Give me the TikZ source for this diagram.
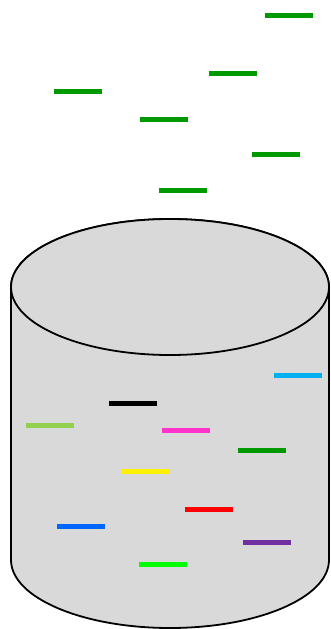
\documentclass[tikz,border=0pt]{standalone}
\begin{document}
\begin{tikzpicture}[x=1pt,y=-1pt,
  bar/.style={line width=5pt,line cap=butt},
  wall/.style={line width=1.8pt,draw=black,fill=cylgray}]
\definecolor{cylgray}{HTML}{D9D9D9}
\definecolor{dkgreen}{HTML}{009900}
\definecolor{skyblue}{HTML}{00B0F0}
\definecolor{olivegreen}{HTML}{92D050}
\definecolor{pinkmag}{HTML}{FF33CC}
\definecolor{royalblue}{HTML}{0066FF}
\definecolor{violet}{HTML}{7030A0}
\definecolor{brightgreen}{HTML}{00FF00}
\useasboundingbox (0,0) rectangle (330,629);
\clip (0,0) rectangle (330,629);
% cylinder body and top face
\draw[wall] (11,287) -- (11,560) arc[start angle=180,end angle=360,x radius=159,y radius=-68]
  -- (329,287) arc[start angle=0,end angle=180,x radius=159,y radius=-68] -- cycle;
\draw[wall] (170,287) ellipse[x radius=159,y radius=68];
% bars falling above the cylinder
\foreach \x/\y in {265/15.5,209/73.5,54/91.5,140/119.5,252/154.5,159/190.5}
  \draw[bar,dkgreen] (\x,\y) -- ++(48,0);
% bars inside the cylinder
\draw[bar,skyblue] (274,375.5) -- ++(48,0);
\draw[bar,black] (109,403.5) -- ++(48,0);
\draw[bar,olivegreen] (26,425.5) -- ++(48,0);
\draw[bar,pinkmag] (162,430.5) -- ++(48,0);
\draw[bar,dkgreen] (238,450.5) -- ++(48,0);
\draw[bar,yellow] (122,471.5) -- ++(48,0);
\draw[bar,red] (185,509.5) -- ++(48,0);
\draw[bar,royalblue] (57,526.5) -- ++(48,0);
\draw[bar,violet] (243,542.5) -- ++(48,0);
\draw[bar,brightgreen] (139,564.5) -- ++(48,0);
\end{tikzpicture}
\end{document}
